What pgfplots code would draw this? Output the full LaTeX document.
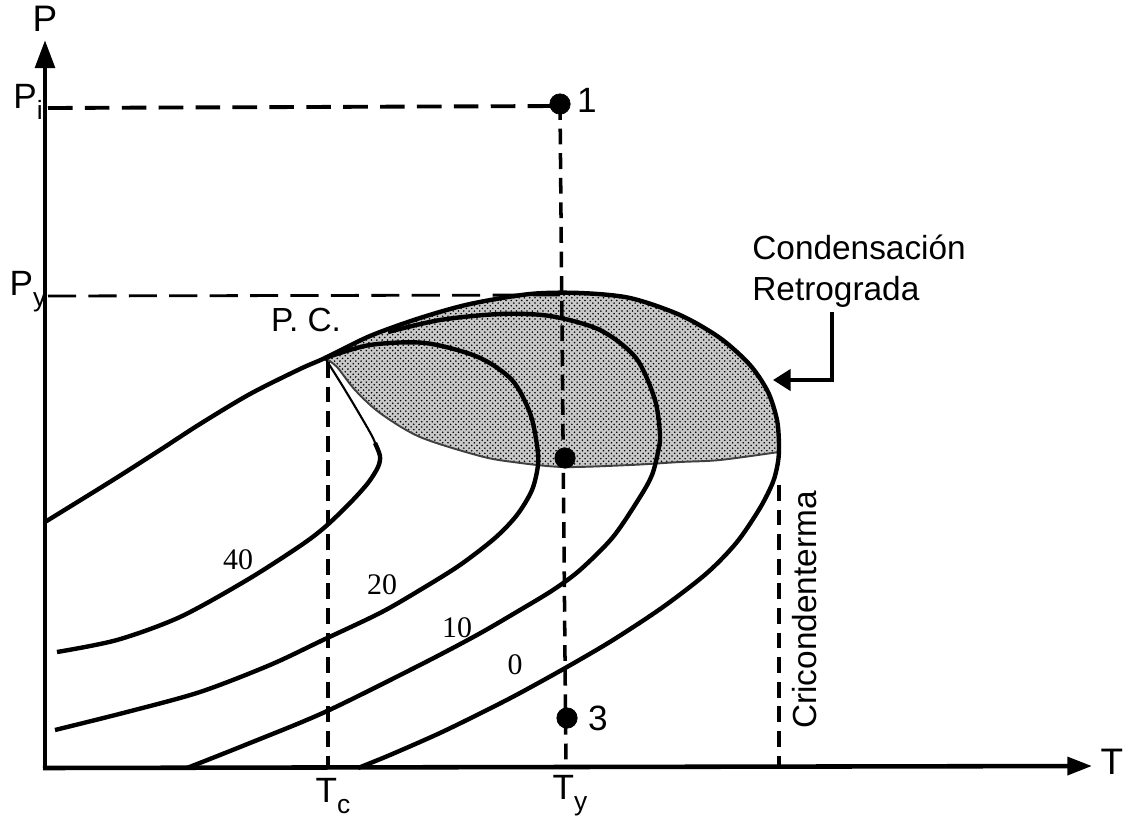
\documentclass[border=0pt]{standalone}
\usepackage{fontspec}
\setmainfont{Liberation Sans}
\newfontfamily\serifnum{Liberation Serif}
\usepackage{pgfplots}
\pgfplotsset{compat=1.18}
\usetikzlibrary{patterns,arrows.meta}
\newcommand{\sub}[1]{\raisebox{-0.32em}{\fontsize{15}{15}\selectfont #1}}
\begin{document}
\begin{tikzpicture}
\begin{axis}[x=0.02cm, y=0.02cm, xmin=0, xmax=1130, ymin=0, ymax=816,
  y dir=reverse, hide axis, clip=false, scale only axis]
\addplot[draw=none] coordinates {(0,0)(1130,816)};
% shaded retrograde region
\addplot[draw=none, fill=gray!42] coordinates {
(325,358)(370,336)(420,318)(470,304)(530,294)(580,293)(630,298)(680,315)(720,338)(750,365)(768,392)(777,420)(779,440)(779,452)
(720,460)(680,462)(630,465)(563,467)(513,462)(480,456)(420,437)(380,413)(355,390)(337,367)(325,358)};
\addplot[draw=none, pattern=crosshatch dots, pattern color=black] coordinates {
(325,358)(370,336)(420,318)(470,304)(530,294)(580,293)(630,298)(680,315)(720,338)(750,365)(768,392)(777,420)(779,440)(779,452)
(720,460)(680,462)(630,465)(563,467)(513,462)(480,456)(420,437)(380,413)(355,390)(337,367)(325,358)};
% lower boundary thin line
\addplot[smooth, line width=1.1pt, black!75] coordinates {
(779,452)(720,460)(680,462)(630,465)(563,467)(513,462)(480,456)(420,437)(380,413)(355,390)(337,367)(325,358)};
% dashed guides
\addplot[line width=2.2pt, dash pattern=on 14pt off 7pt] coordinates {(48,108)(560,106)};
\addplot[line width=1.6pt, dash pattern=on 16pt off 7pt] coordinates {(48,296)(560,295)};
\addplot[line width=2pt, dash pattern=on 9pt off 5pt] coordinates {(560,104)(566,768)};
\addplot[line width=2pt, dash pattern=on 9pt off 5pt] coordinates {(328,362)(328,768)};
\addplot[line width=2pt, dash pattern=on 9pt off 5pt] coordinates {(779,485)(779,768)};
% bubble + dew (0) curve
\addplot[smooth, line width=2.5pt] coordinates {
(45,522)(113,480)(160,450)(200,424)(250,394)(300,369)(325,358)(370,336)(420,318)(470,304)(530,294)(580,293)(630,298)(680,315)(720,338)(750,365)(768,392)(777,420)(779,445)(778,462)(773,482)(760,508)(737,542)(707,573)(663,607)(613,640)(567,667)(520,693)(487,710)(440,733)(390,755)(358,768)};
% 20 % curve
\addplot[smooth, line width=2.5pt] coordinates {
(325,358)(370,345)(425,343)(478,357)(512,380)(530,413)(537,445)(538,465)(532,490)(517,515)(495,538)(460,565)(420,590)(380,613)(323,640)(270,665)(200,692)(127,712)(55,730)};
% 10 % curve
\addplot[smooth, line width=2.5pt] coordinates {
(388,332)(440,320)(500,314)(550,316)(600,330)(636,358)(655,400)(660,435)(658,452)(652,475)(640,497)(613,537)(580,570)(553,590)(520,610)(477,635)(420,665)(325,712)(245,745)(187,768)};
% 40 % curve thin part
\addplot[smooth, line width=1.2pt] coordinates {
(325,358)(342,385)(360,415)(373,438)(380,456)};
% 40 % curve thick part
\addplot[smooth, line width=2.5pt] coordinates {
(375,443)(380,456)(378,467)(368,483)(350,503)(325,527)(300,546)(247,580)(180,617)(117,640)(57,652)};
% axes
\addplot[line width=2.8pt, -{Triangle[length=16pt,width=11pt]}] coordinates {(45,770)(45,40)};
\addplot[line width=2.6pt, -{Triangle[length=14pt,width=10pt]}] coordinates {(43,768)(1092,766)};
% retrograde arrow
\addplot[line width=2.2pt, -{Triangle[length=10pt,width=12pt]}] coordinates {(832,312)(832,380)(773,380)};
% points
\addplot[only marks, mark=*, mark size=5.8pt, black] coordinates {(560,104)(565,458)(567,718)};
% labels
\node[font=\fontsize{21}{21}\selectfont] at (axis cs:45,19) {P};
\node[font=\fontsize{21}{21}\selectfont] at (axis cs:1112,762) {T};
\node[font=\fontsize{20}{20}\selectfont] at (axis cs:28,102) {P\sub{i}};
\node[font=\fontsize{20}{20}\selectfont] at (axis cs:28,292) {P\sub{y}};
\node[font=\fontsize{20}{20}\selectfont] at (axis cs:333,796) {T\sub{c}};
\node[font=\fontsize{20}{20}\selectfont] at (axis cs:570,796) {T\sub{y}};
\node[font=\fontsize{20}{20}\selectfont] at (axis cs:587,100) {1};
\node[font=\fontsize{20}{20}\selectfont] at (axis cs:598,718) {3};
\node[font=\fontsize{19}{19}\selectfont] at (axis cs:306,320) {P. C.};
\node[font=\fontsize{19}{23}\selectfont, align=left, anchor=north west, inner sep=0pt] at (axis cs:752,235) {Condensación\\Retrograda};
\node[font=\fontsize{19}{19}\selectfont, rotate=90] at (axis cs:805,610) {Cricondenterma};
\node[font=\serifnum\fontsize{17}{17}\selectfont] at (axis cs:238,560) {40};
\node[font=\serifnum\fontsize{17}{17}\selectfont] at (axis cs:382,585) {20};
\node[font=\serifnum\fontsize{17}{17}\selectfont] at (axis cs:457,628) {10};
\node[font=\serifnum\fontsize{17}{17}\selectfont] at (axis cs:515,665) {0};
\end{axis}
\end{tikzpicture}
\end{document}
